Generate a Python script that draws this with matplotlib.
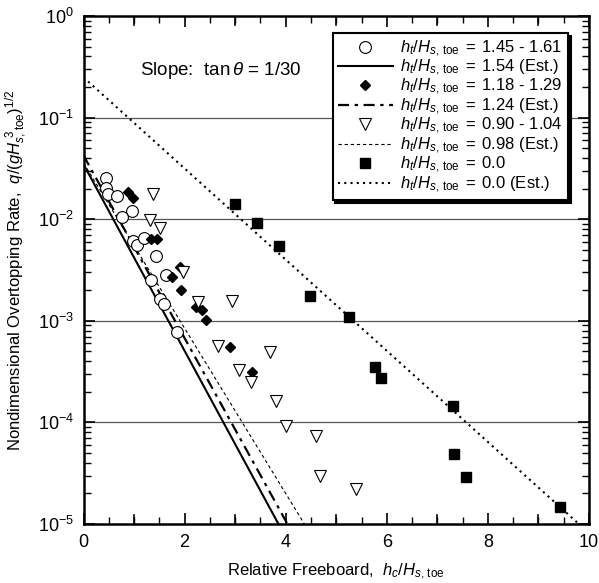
import numpy as np
import matplotlib
matplotlib.use("Agg")
import matplotlib.pyplot as plt
from matplotlib.ticker import FixedLocator, LogLocator, NullFormatter

plt.rcParams['font.family'] = ['Liberation Sans', 'DejaVu Sans']
plt.rcParams['mathtext.fontset'] = 'custom'
plt.rcParams['mathtext.rm'] = 'Liberation Sans'
plt.rcParams['mathtext.it'] = 'Liberation Sans:italic'
plt.rcParams['mathtext.bf'] = 'Liberation Sans:bold'
plt.rcParams['mathtext.sf'] = 'Liberation Sans'

# measured overtopping, ht/Hs,toe = 1.45-1.61
hc_a = [0.45, 0.45, 0.49, 0.67, 0.95, 0.76, 0.97, 1.05, 1.20, 1.44, 1.63, 1.34, 1.52, 1.60, 1.85]
q_a = [0.0253, 0.0204, 0.0176, 0.0169, 0.0121, 0.0106, 0.0061, 0.0056, 0.0065,
       0.00434, 0.00282, 0.00252, 0.00164, 0.00146, 0.00077]

# ht/Hs,toe = 1.18-1.29
hc_b = [0.88, 0.97, 1.34, 1.46, 1.90, 1.76, 1.93, 2.23, 2.35, 2.43, 2.89, 3.34]
q_b = [0.0187, 0.0163, 0.00634, 0.00634, 0.00341, 0.00272, 0.00201, 0.00138,
       0.00128, 0.00102, 0.00055, 0.000316]

# ht/Hs,toe = 0.90-1.04
hc_c = [1.37, 1.32, 1.52, 1.96, 2.27, 2.93, 2.67, 3.69, 3.07, 3.32, 3.81, 4.00, 4.60, 4.68, 5.39]
q_c = [0.0177, 0.0098, 0.00824, 0.00305, 0.00152, 0.00157, 0.00057, 0.000497,
       0.000328, 0.000252, 0.000164, 9.3e-5, 7.3e-5, 2.99e-5, 2.19e-5]

# ht/Hs,toe = 0.0
hc_d = [3.00, 3.43, 3.86, 4.49, 5.26, 5.77, 5.88, 7.30, 7.32, 7.56, 9.42]
q_d = [0.0141, 0.0091, 0.00545, 0.00175, 0.0011, 0.00035, 0.000272, 0.000145,
       4.89e-5, 2.92e-5, 1.48e-5]

# estimated curves q = a * 10**(-k * hc)
est_a = (0.0347, 0.918)
est_b = (0.0424, 0.899)
est_c = (0.0357, 0.813)
est_d = (0.249, 0.4486)

lab = r'$h_t/H_{s,\,\mathrm{toe}}\;=\;$'

fig = plt.figure(figsize=(5.99, 5.83), dpi=100)
ax = fig.add_axes([0.1394, 0.1012, 0.8439, 0.8714])

xx = np.linspace(0, 10, 400)
def est(p):
    return p[0] * 10 ** (-p[1] * xx)

ax.plot(hc_a, q_a, 'o', ms=8.5, mfc='white', mec='black', mew=0.8, ls='none',
        label=lab + '1.45 - 1.61', zorder=4)
ax.plot(xx, est(est_a), '-', color='black', lw=1.5, label=lab + '1.54 (Est.)')
ax.plot(hc_b, q_b, 'D', ms=5.5, mfc='black', mec='black', ls='none',
        label=lab + '1.18 - 1.29', zorder=4)
ax.plot(xx, est(est_b), color='black', lw=1.6, ls=(0, (5, 2.5, 1.5, 2.5)),
        label=lab + '1.24 (Est.)')
ax.plot(hc_c, q_c, 'v', ms=9, mfc='white', mec='black', mew=0.8, ls='none',
        label=lab + '0.90 - 1.04', zorder=4)
ax.plot(xx, est(est_c), color='black', lw=0.8, ls=(0, (3, 2.5)),
        label=lab + '0.98 (Est.)')
ax.plot(hc_d, q_d, 's', ms=6.5, mfc='black', mec='black', ls='none',
        label=lab + '0.0', zorder=4)
ax.plot(xx, est(est_d), color='black', lw=1.5, ls=(0, (1, 2)),
        label=lab + '0.0 (Est.)')

ax.set_yscale('log')
ax.set_xlim(0, 10)
ax.set_ylim(1e-5, 1)

for yv in [1e-1, 1e-2, 1e-3, 1e-4]:
    ax.axhline(yv, color='#555555', lw=0.9, zorder=1)

ax.xaxis.set_major_locator(FixedLocator([0, 2, 4, 6, 8, 10]))
ax.xaxis.set_minor_locator(FixedLocator(np.arange(0.5, 10, 0.5)))
ax.yaxis.set_minor_locator(LogLocator(base=10, subs=np.arange(2, 10), numticks=20))
ax.yaxis.set_minor_formatter(NullFormatter())
ax.set_yticks([1e-5, 1e-4, 1e-3, 1e-2, 1e-1, 1])
ax.set_yticklabels([r'$10^{-5}$', r'$10^{-4}$', r'$10^{-3}$', r'$10^{-2}$',
                    r'$10^{-1}$', r'$10^{0}$'])
ax.set_xticklabels(['0', '2', '4', '6', '8', '10'])

# integer ticks are long, half-integer ticks short
for xv in range(1, 10, 2):
    ax.axvline(xv, ymin=0, ymax=0.018, color='black', lw=1.2)
    ax.axvline(xv, ymin=0.982, ymax=1, color='black', lw=1.2)

ax.tick_params(which='both', direction='in', top=True, right=True, labelsize=13)
ax.tick_params(which='major', length=8, width=1.2, pad=7)
ax.tick_params(which='minor', length=5, width=1.0)
for s in ax.spines.values():
    s.set_linewidth(1.8)

ax.set_xlabel('Relative Freeboard,  ' + r'$h_c/H_{s,\,\mathrm{toe}}$', fontsize=12, labelpad=8)
ax.set_ylabel('Nondimensional Overtopping Rate,  ' + r'$q/(gH_{s,\,\mathrm{toe}}^{\ 3})^{1/2}$',
              fontsize=12, labelpad=6)

ax.text(0.112, 0.892, r'Slope:  tan$\,\theta$ = 1/30', transform=ax.transAxes,
        fontsize=13.5, va='center', ha='left')

leg = ax.legend(loc='upper right', bbox_to_anchor=(0.958, 0.966), fontsize=12,
                frameon=True, fancybox=False, shadow={'color': 'black', 'alpha': 1},
                handlelength=3.3, handletextpad=0.45, labelspacing=-0.05,
                borderpad=0.3, borderaxespad=0)
leg.get_frame().set_edgecolor('black')
leg.get_frame().set_linewidth(1.5)
leg.get_frame().set_alpha(1)

fig.savefig('out.png', dpi=100)
